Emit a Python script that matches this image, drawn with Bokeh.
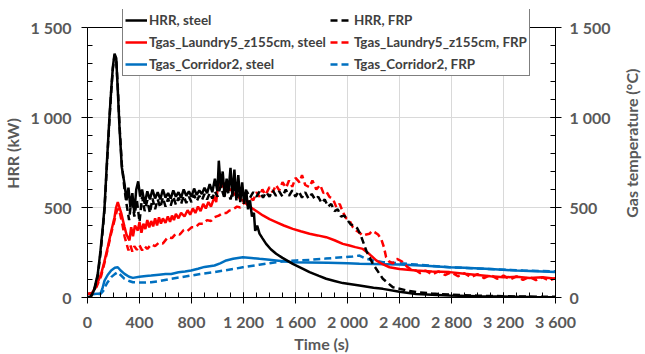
import math
from bokeh.plotting import figure
from bokeh.layouts import row
from bokeh.models import (Range1d, LinearAxis, FixedTicker, Legend, LegendItem, BoxAnnotation,
                          Span, Label)
from bokeh.embed import file_html
from bokeh.resources import INLINE

# ---------------- data ----------------
x_ticks = [0, 400, 800, 1200, 1600, 2000, 2400, 2800, 3200, 3600]
x_tick_labels = ["0", "400", "800", "1 200", "1 600", "2 000", "2 400", "2 800", "3 200", "3 600"]
y_ticks = [0, 500, 1000, 1500]
y_tick_labels = ["0", "500", "1 000", "1 500"]

hrr_steel_t = [0, 25, 50, 79, 100, 120, 131, 150, 169, 182, 195, 208, 221, 233, 246, 264, 285,
               300, 315, 330, 345, 360, 375, 390, 405, 420, 440, 460, 480, 500, 520, 540, 560,
               580, 600, 620, 640, 660, 680, 700, 720, 740, 760, 780, 800, 820, 840, 860, 880,
               900, 920, 940, 960, 980, 1000, 1010, 1025, 1040, 1055, 1070, 1085, 1100, 1115,
               1130, 1145, 1160, 1175, 1190, 1205, 1220, 1235, 1250, 1265, 1280, 1290, 1305,
               1323, 1345, 1374, 1410, 1451, 1500, 1579, 1650, 1708, 1780, 1836, 1900, 1964,
               2092, 2200, 2272, 2400, 2528, 2650, 2785, 3000, 3200, 3400, 3600]
hrr_steel = [0, 5, 40, 131, 260, 410, 502, 760, 1002, 1150, 1280, 1355, 1330, 1150, 946, 724, 630,
             540, 610, 500, 580, 470, 600, 645, 560, 600, 520, 590, 545, 600, 550, 585, 545,
             600, 555, 580, 550, 595, 560, 585, 555, 600, 565, 590, 560, 605, 570, 595, 575,
             610, 580, 630, 585, 660, 590, 760, 610, 700, 560, 660, 590, 720, 560,
             710, 540, 680, 530, 640, 520, 600, 490, 540, 450, 470, 370, 400,
             355, 330, 298, 268, 243, 220, 187, 162, 141, 120, 104, 92, 80,
             67, 54, 48, 32, 20, 15, 11, 7, 5, 3, 2]

hrr_frp_t = [0, 25, 50, 79, 100, 120, 131, 150, 169, 182, 195, 208, 221, 233, 246, 264, 285,
             300, 320, 340, 360, 380, 400, 420, 440, 460, 480, 500, 520, 540, 560, 580, 600,
             620, 640, 660, 680, 700, 720, 740, 760, 780, 800, 820, 840, 860, 880, 900, 920,
             940, 960, 980, 1000, 1025, 1050, 1075, 1100, 1125, 1150, 1175, 1200, 1225, 1250,
             1275, 1300, 1325, 1350, 1375, 1400, 1425, 1450, 1475, 1500, 1525, 1550, 1575,
             1600, 1625, 1650, 1675, 1700, 1725, 1750, 1775, 1800, 1825, 1850, 1875, 1900,
             1925, 1950, 1975, 2000, 2025, 2050, 2075, 2100, 2144, 2195, 2272, 2349, 2450,
             2528, 2650, 2785, 3000, 3200, 3400, 3600]
hrr_frp = [0, 4, 35, 120, 245, 395, 490, 745, 990, 1140, 1270, 1345, 1320, 1170, 960, 740, 600,
           520, 430, 560, 450, 540, 420, 560, 480, 540, 470, 550, 490, 545, 500, 555, 505,
           550, 510, 560, 515, 555, 520, 565, 525, 560, 530, 570, 535, 565, 540, 575, 545,
           580, 550, 590, 560, 620, 560, 600, 545, 610, 555, 600, 560, 590, 555,
           585, 560, 590, 555, 585, 560, 595, 565, 590, 560, 600, 565, 595,
           560, 590, 555, 585, 550, 575, 545, 560, 525, 545, 505, 520, 480,
           490, 450, 455, 430, 405, 400, 385, 350, 261, 187, 104, 57, 40,
           30, 22, 16, 10, 7, 5, 4]

laundry_steel_t = [0, 35, 70, 105, 130, 156, 180, 208, 220, 233, 246, 259, 272, 285, 300, 323,
                   336, 350, 365, 387, 400, 415, 430, 445, 460, 475, 490, 505, 520, 535, 550,
                   565, 580, 600, 618, 635, 650, 665, 680, 700, 720, 746, 770, 790, 810, 830,
                   850, 870, 890, 910, 930, 950, 977, 990, 1000, 1015, 1030, 1045, 1060, 1075,
                   1092, 1110, 1130, 1150, 1170, 1195, 1230, 1272, 1310, 1349, 1400, 1451,
                   1510, 1579, 1640, 1708, 1770, 1836, 1900, 1964, 2015, 2060, 2118, 2170,
                   2221, 2270, 2323, 2400, 2528, 2650, 2785, 2900, 3000, 3100, 3200, 3300,
                   3400, 3500, 3600]
laundry_steel = [20, 25, 70, 131, 200, 280, 360, 446, 500, 530, 500, 470, 430, 391, 350, 317,
                 391, 340, 400, 372, 420, 360, 410, 380, 430, 390, 425, 395, 440, 400, 445,
                 410, 440, 415, 450, 420, 455, 430, 465, 440, 470, 450, 485, 460, 495, 470,
                 505, 480, 520, 495, 530, 505, 560, 530, 600, 659, 610, 640, 590, 620,
                 594, 605, 570, 580, 550, 539, 515, 493, 475, 456, 435, 419,
                 400, 381, 368, 354, 345, 335, 318, 298, 289, 280, 270, 240,
                 206, 185, 168, 158, 150, 145, 141, 132, 125, 118, 112, 115,
                 108, 112, 104]

laundry_frp_t = [0, 35, 70, 105, 130, 156, 180, 208, 225, 240, 255, 270, 285, 300, 315, 330,
                 345, 360, 380, 400, 420, 440, 460, 490, 520, 550, 580, 618, 650, 680, 710,
                 740, 770, 800, 830, 860, 890, 920, 950, 977, 1010, 1040, 1070, 1092, 1120,
                 1150, 1175, 1195, 1220, 1250, 1275, 1300, 1323, 1345, 1370, 1400, 1425,
                 1450, 1475, 1500, 1528, 1550, 1575, 1600, 1631, 1650, 1675, 1708, 1730,
                 1760, 1790, 1815, 1836, 1860, 1890, 1915, 1940, 1964, 1990, 2015, 2041,
                 2067, 2092, 2118, 2144, 2169, 2190, 2208, 2235, 2259, 2280, 2297, 2320,
                 2349, 2380, 2420, 2460, 2500, 2528, 2560, 2600, 2650, 2700, 2750, 2800,
                 2850, 2900, 2950, 3000, 3050, 3100, 3150, 3200, 3250, 3300, 3350, 3400,
                 3450, 3500, 3550, 3600]
laundry_frp = [20, 22, 60, 120, 190, 270, 350, 430, 480, 495, 450, 400, 340, 300, 262, 290,
               255, 285, 265, 290, 262, 285, 270, 295, 285, 305, 300, 335, 330, 355, 350,
               375, 370, 390, 390, 410, 410, 430, 425, 446, 455, 470, 470, 483, 490,
               505, 500, 520, 530, 555, 540, 585, 560, 600, 570, 613, 585,
               625, 595, 640, 610, 650, 615, 665, 640, 680, 625, 613, 650,
               600, 625, 580, 590, 560, 545, 500, 520, 474, 440, 428, 391,
               372, 360, 344, 350, 354, 370, 363, 350, 326, 280, 224, 200,
               190, 215, 200, 170, 150, 150, 135, 150, 128, 145, 125, 140,
               118, 135, 112, 130, 108, 125, 104, 122, 100, 118, 98, 115,
               96, 112, 95, 108]

corridor_steel_t = [0, 50, 100, 115, 131, 155, 182, 210, 233, 255, 285, 320, 349, 400, 450,
                    490, 550, 600, 644, 700, 750, 797, 850, 900, 977, 1020, 1067, 1120, 1195,
                    1260, 1323, 1400, 1451, 1579, 1700, 1850, 2000, 2092, 2200, 2400, 2600,
                    2785, 2900, 3100, 3300, 3450, 3600]
corridor_steel = [20, 20, 22, 50, 94, 125, 150, 165, 168, 150, 131, 115, 109, 115, 120,
                  122, 127, 130, 131, 140, 145, 150, 160, 170, 178, 190, 206, 215, 224,
                  220, 215, 210, 206, 196, 195, 193, 190, 187, 186, 183, 176,
                  168, 165, 158, 150, 146, 141]

corridor_frp_t = [0, 50, 100, 120, 131, 155, 182, 210, 233, 255, 285, 320, 349, 420, 490,
                  560, 644, 720, 797, 880, 977, 1050, 1120, 1195, 1320, 1451, 1530, 1605,
                  1708, 1830, 1964, 2040, 2092, 2144, 2200, 2272, 2400, 2528, 2650, 2785,
                  2950, 3150, 3350, 3600]
corridor_frp = [20, 20, 20, 35, 55, 85, 113, 130, 141, 125, 104, 92, 85, 83, 85,
                92, 104, 113, 122, 132, 141, 150, 158, 168, 182, 196, 203, 206,
                209, 216, 224, 228, 233, 215, 206, 196, 190, 183, 176, 168,
                163, 156, 150, 145]

right_axis_title = "Gas temperature (°C)"

# ---------------- styling ----------------
FONT = "Lato"
GREY = "#595959"
BLACK = "#000000"
RED = "#FF0000"
BLUE = "#0070C0"
LW = 2.5
DASH = "7 4"
Y_MAX = 1500
Y_VIEW = 1600   # frame extends a little above the axis top so the legend can sit there

p = figure(frame_width=468, frame_height=288, x_range=Range1d(0, 3600), y_range=Range1d(0, Y_VIEW),
           output_backend="svg", toolbar_location=None,
           min_border_left=80, min_border_right=66, min_border_top=9, min_border_bottom=20)
p.extra_y_ranges = {"temp": Range1d(0, Y_VIEW)}
p.background_fill_color = "white"
p.border_fill_color = "white"
p.outline_line_color = None

xt = FixedTicker(ticks=x_ticks, minor_ticks=list(range(0, 3601, 100)))
yt = FixedTicker(ticks=y_ticks, minor_ticks=list(range(0, 1501, 100)))

def style_axis(ax, label):
    ax.axis_label = label
    ax.axis_line_color = "black"
    ax.axis_line_width = 1
    ax.major_tick_line_color = "black"
    ax.minor_tick_line_color = "black"
    ax.major_tick_out = 6
    ax.major_tick_in = 5
    ax.minor_tick_out = 0
    ax.minor_tick_in = 5
    ax.major_label_text_font = FONT
    ax.major_label_text_font_style = "bold"
    ax.major_label_text_font_size = "16px"
    ax.major_label_text_color = GREY
    ax.axis_label_text_font = FONT
    ax.axis_label_text_font_style = "bold"
    ax.axis_label_text_font_size = "16px"
    ax.axis_label_text_color = GREY

xa = p.xaxis[0]
xa.ticker = xt
xa.major_label_overrides = dict(zip(x_ticks, x_tick_labels))
style_axis(xa, "Time (s)")
xa.major_label_standoff = 8
xa.axis_label_standoff = 0

ya = p.yaxis[0]
ya.ticker = yt
ya.bounds = (0, Y_MAX)
ya.major_label_overrides = dict(zip(y_ticks, y_tick_labels))
style_axis(ya, "HRR (kW)")
ya.major_label_standoff = 10
ya.axis_label_standoff = 5

ra = LinearAxis(y_range_name="temp", ticker=FixedTicker(ticks=y_ticks, minor_ticks=list(range(0, 1501, 100))))
ra.bounds = (0, Y_MAX)
ra.major_label_overrides = dict(zip(y_ticks, y_tick_labels))
style_axis(ra, None)
ra.major_label_standoff = 8
p.add_layout(ra, "right")

p.xgrid.ticker = xt
p.ygrid.ticker = FixedTicker(ticks=[500, 1000])
p.xgrid.grid_line_color = "#D9D9D9"
p.ygrid.grid_line_color = "#D9D9D9"
p.xgrid.grid_line_width = 1
p.ygrid.grid_line_width = 1

r_bs = p.line(corridor_steel_t, corridor_steel, color=BLUE, line_width=LW, y_range_name="temp")
r_bf = p.line(corridor_frp_t, corridor_frp, color=BLUE, line_width=LW, line_dash=DASH, y_range_name="temp")
r_rs = p.line(laundry_steel_t, laundry_steel, color=RED, line_width=LW, y_range_name="temp")
r_rf = p.line(laundry_frp_t, laundry_frp, color=RED, line_width=LW, line_dash=DASH, y_range_name="temp")
r_hf = p.line(hrr_frp_t, hrr_frp, color=BLACK, line_width=LW, line_dash=DASH)
r_hs = p.line(hrr_steel_t, hrr_steel, color=BLACK, line_width=LW)

# blank band above the top of the axes, and the top border of the plot area
p.add_layout(BoxAnnotation(bottom=Y_MAX, fill_color="white", fill_alpha=1, line_color=None))
p.add_layout(Span(location=Y_MAX, dimension="width", line_color="black", line_width=1))

legend = Legend(items=[
    LegendItem(label="HRR, steel", renderers=[r_hs]),
    LegendItem(label="Tgas_Laundry5_z155cm, steel", renderers=[r_rs]),
    LegendItem(label="Tgas_Corridor2, steel", renderers=[r_bs]),
    LegendItem(label="HRR, FRP", renderers=[r_hf]),
    LegendItem(label="Tgas_Laundry5_z155cm, FRP", renderers=[r_rf]),
    LegendItem(label="Tgas_Corridor2, FRP", renderers=[r_bf]),
], ncols=2, location=(35, 221))
legend.label_text_font = FONT
legend.label_text_font_style = "bold"
legend.label_text_font_size = "13.4px"
legend.label_text_color = "#404040"
legend.border_line_color = "black"
legend.border_line_width = 1
legend.background_fill_alpha = 1
legend.padding = 2
legend.margin = 0
legend.spacing = 4
legend.glyph_width = 22
legend.glyph_height = 18
legend.label_height = 18
legend.label_standoff = 2
p.add_layout(legend, "center")

# narrow strip to the right holding the right-axis title (reads bottom to top)
W2 = 21
H2 = 340
p2 = figure(width=W2, height=H2, x_range=Range1d(0, W2), y_range=Range1d(0, H2),
            output_backend="svg", toolbar_location=None,
            x_axis_location=None, y_axis_location=None, min_border=0)
p2.grid.visible = False
p2.outline_line_color = None
p2.background_fill_color = "white"
p2.border_fill_color = "white"
p2.add_layout(Label(x=10, y=H2 - 166.5, text=right_axis_title, angle=math.pi / 2,
                    text_align="center", text_baseline="middle", text_font=FONT,
                    text_font_style="bold", text_font_size="16px", text_color=GREY))

layout = row(p, p2)
open("out.html", "w").write(file_html(layout, INLINE))
